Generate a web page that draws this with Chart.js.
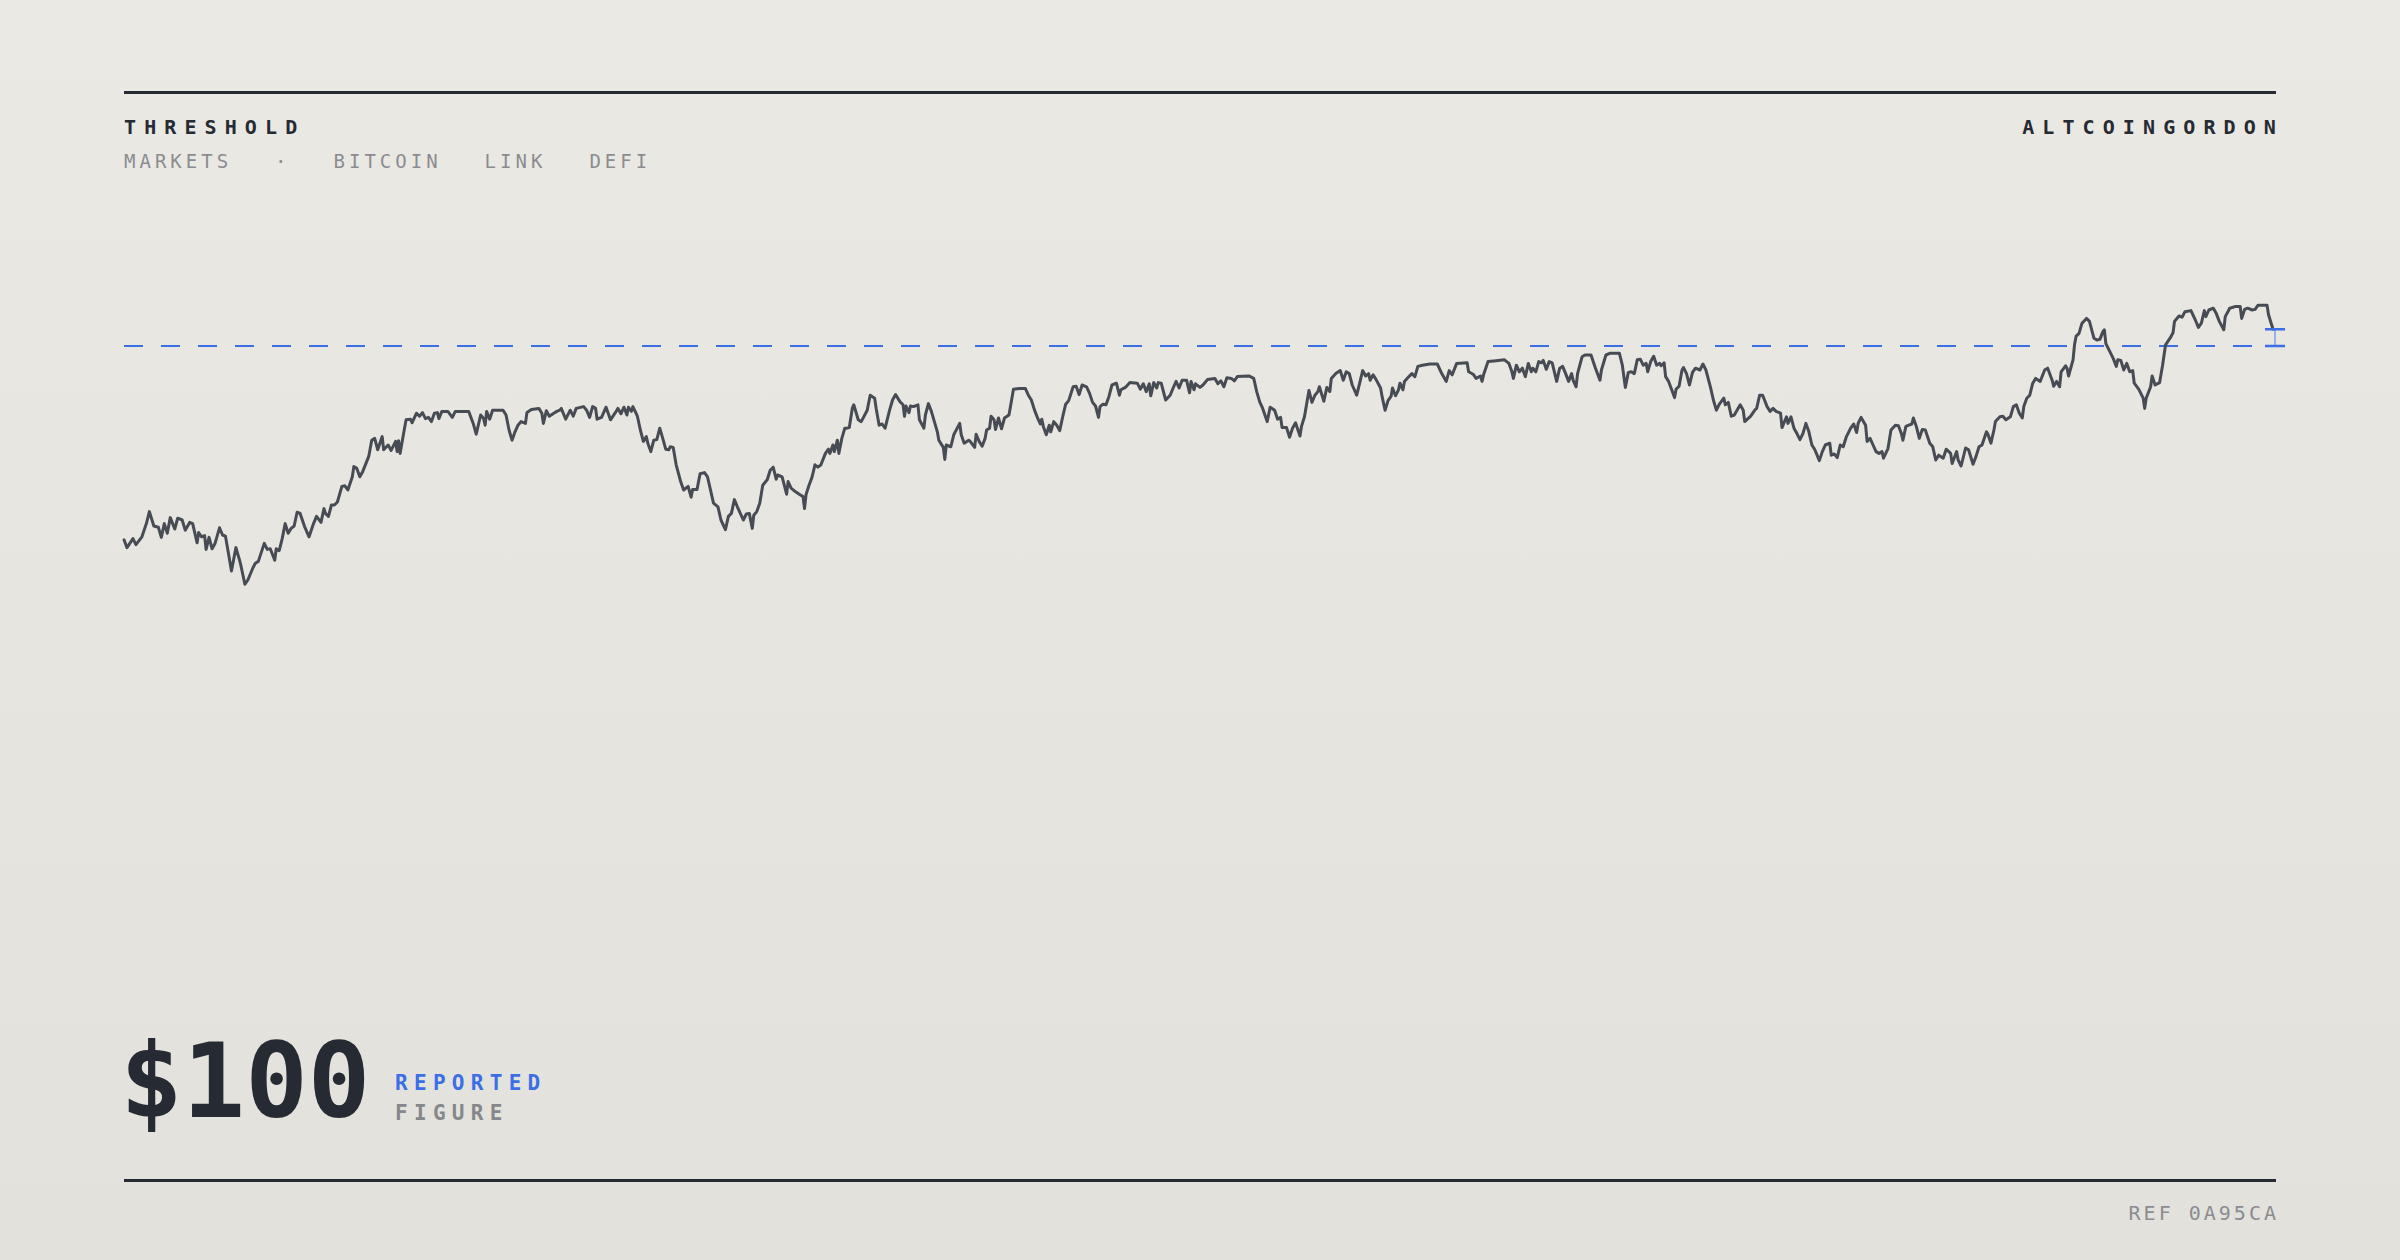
<!DOCTYPE html>
<html>
<head>
<meta charset="utf-8">
<title>Threshold</title>
<script src="https://cdn.jsdelivr.net/npm/chart.js@4.4.1/dist/chart.umd.min.js"></script>
<style>
  html, body { margin: 0; padding: 0; }
  body {
    width: 2400px; height: 1260px; position: relative; overflow: hidden;
    background: linear-gradient(180deg, #ebe9e3 0%, #e2e1dc 100%);
    font-family: 'DejaVu Sans Mono', monospace; color: #262a33;
  }
  .rule { position: absolute; left: 124px; width: 2152px; height: 3px; background: #262a33; }
  .brand { position: absolute; top: 117px; font-size: 20px; line-height: 20px; font-weight: bold; letter-spacing: 8.1px; white-space: nowrap; }
  .nav { position: absolute; left: 124px; top: 152px; display: flex; gap: 43px; font-size: 19px; line-height: 19px; letter-spacing: 4px; color: #8b8c90; white-space: nowrap; }
  #wrap { position: absolute; left: 104px; top: 206px; width: 2200px; height: 760px; }
  .big { position: absolute; left: 120px; top: 1029px; font-size: 104px; line-height: 104px; font-weight: bold; white-space: nowrap; }
  .tag { position: absolute; left: 395px; font-size: 21px; line-height: 21px; font-weight: bold; letter-spacing: 6.3px; white-space: nowrap; }
  .ref { position: absolute; right: 121px; top: 1203px; font-size: 20px; line-height: 20px; letter-spacing: 3px; color: #8b8c90; white-space: nowrap; }
</style>
</head>
<body>
<div class="rule" style="top:91px"></div>
<div class="brand" style="left:124px">THRESHOLD</div>
<div class="brand" style="right:116px">ALTCOINGORDON</div>
<div class="nav"><span>MARKETS</span><span>·</span><span>BITCOIN</span><span>LINK</span><span>DEFI</span></div>

<div id="wrap"><canvas id="chart"></canvas></div>

<div class="big" id="figure"></div>
<div class="tag" style="top:1073px; color:#3a6fe6">REPORTED</div>
<div class="tag" style="top:1103px; color:#86878b">FIGURE</div>
<div class="rule" style="top:1179px"></div>
<div class="ref">REF 0A95CA</div>

<script>
// sample index (half-day steps) and price
const t = [
  0,2,6,8,12,15,17,20,23,25,27,29,31,34,36,39,41,44,46,49,50,52,54,55,57,59,61,64,66,68,
  70,72,75,78,81,83,86,88,90,94,96,98,101,102,104,106,108,110,112,114,116,118,121,124,127,129,132,134,135,137,
  139,141,143,146,148,150,153,154,156,158,160,164,166,168,170,173,174,177,179,182,183,184,185,187,189,192,193,196,198,200,
  202,204,206,208,210,211,213,217,220,222,231,234,236,
  239,241,242,243,245,247,254,256,258,260,262,264,266,269,270,273,278,280,281,283,285,288,290,292,293,296,299,301,303,308,
  310,312,314,316,317,320,323,326,329,331,333,335,337,338,340,341,344,346,348,350,351,353,355,357,359,361,363,365,366,368,
  370,373,375,378,380,381,384,386,389,391,393,395,398,400,403,405,407,409,411,415,417,419,421,422,424,426,428,431,433,435,
  437,438,441,444,445,447,450,453,455,456,457,459,461,463,465,467,470,472,473,475,476,478,479,481,483,484,
  486,488,489,492,494,498,500,503,504,506,508,510,513,515,517,520,522,523,524,526,527,529,532,533,536,537,539,541,543,545,
  546,549,550,551,554,556,560,561,563,566,567,570,571,573,575,577,578,580,581,583,584,586,588,590,593,594,596,600,604,606,
  608,610,612,614,615,616,618,620,621,623,625,627,629,631,633,636,638,640,642,645,647,649,651,653,654,656,658,660,662,665,
  667,668,671,674,679,681,683,685,687,688,690,692,693,695,698,701,703,705,707,709,712,714,715,717,718,721,723,
  726,731,733,735,737,739,742,744,746,754,757,759,761,763,766,768,771,773,775,776,779,781,783,785,788,789,791,794,796,798,
  800,801,804,806,808,809,812,815,817,819,821,823,826,828,830,832,834,835,837,839,842,843,845,847,849,850,852,854,855,857,
  858,861,863,865,867,870,875,880,883,886,888,890,893,900,901,904,906,909,910,911,914,918,925,928,930,931,933,935,937,939,
  941,943,944,946,948,950,951,953,955,957,960,962,964,966,
  968,970,971,973,974,977,979,983,986,989,990,993,996,1002,1004,1006,1008,1010,1012,1014,1016,1018,1020,1021,1023,1025,1027,1029,1030,1032,
  1033,1035,1039,1040,1042,1044,1045,1047,1049,1051,1053,1056,1058,1060,1063,1065,1067,1069,1072,1073,1075,1077,1079,1083,1085,1086,1090,1093,1094,1096,
  1098,1101,1103,1105,1107,1110,1111,1114,1115,1117,1119,1121,1123,1125,1127,1129,1131,1133,1136,1138,1140,1143,1144,1146,1148,1150,1152,1154,1157,1159,
  1161,1162,1164,1167,1168,1170,1172,1174,1176,1178,1179,1182,1184,1187,1189,1191,1192,1194,1196,1198,1199,1201,1203,1205,1207,1210,
  1212,1214,1216,1219,1221,1224,1225,1228,1229,1231,1234,1236,1239,1241,1243,1245,1248,1249,1251,1253,1254,1257,1259,1261,1264,1266,1268,1270,1272,1273,
  1275,1277,1279,1281,1284,1287,1289,1292,1293,1295,1297,1298,1301,1302,1303,1306,1307,1308,1310,1312,1315,1317,1320,1322,1324,1326,1327,1328,1330,1333,
  1335,1336,1338,1340,1342,1344,1346,1347,1350,1353,1354,1355,1358,1359,1361,1364,1366,1368,1371,1373,1374,1377,1379,1381,1385,1388,1390,1392,1394,1395,
  1397,1400,1402,1404,1407,1408,1411,1415,1418,1419,1421,1423,1426,1428,1430,1433,1436,1437,1440
];
const price = [
  67.7,66.4,67.9,66.9,68.2,70.4,72.4,70.0,69.8,68.1,70.4,68.8,71.4,69.5,71.3,71.0,69.3,70.6,70.4,67.2,68.9,68.2,68.4,66.1,68.1,66.2,67.1,69.7,68.5,68.3,
  65.4,62.5,66.4,63.8,60.3,61.0,62.8,63.8,64.1,67.1,66.1,66.2,64.3,66.2,65.9,67.9,70.4,68.8,69.6,70.0,72.3,72.1,69.9,68.2,70.4,71.6,70.6,72.9,72.1,71.6,
  73.5,73.5,74.0,76.6,76.7,76.0,78.2,79.9,79.6,78.2,79.1,81.6,84.3,84.6,82.7,84.9,82.7,83.5,82.6,84.1,82.4,84.2,82.1,84.9,87.7,87.8,87.2,88.8,88.3,88.9,
  87.9,88.1,87.4,88.8,88.9,87.9,89.1,89.1,88.1,89.1,89.1,87.1,85.3,
  88.5,87.9,86.8,89.1,87.8,89.3,89.3,88.5,86.0,84.3,85.7,86.8,87.4,87.1,88.9,89.4,89.6,88.8,87.1,89.2,88.3,88.8,89.1,89.3,89.6,87.8,89.3,88.3,89.6,89.9,
  89.3,88.1,89.9,89.6,87.8,88.1,89.8,87.7,88.8,89.6,88.7,89.8,88.5,89.8,89.1,89.9,88.3,86.0,84.1,84.9,83.8,82.4,84.3,84.4,86.3,84.6,82.8,82.7,83.2,83.1,
  80.2,77.4,76.0,76.6,74.8,76.1,76.1,78.7,78.9,78.2,76.0,73.8,73.2,71.0,69.4,71.6,72.1,74.4,73.2,71.0,72.0,72.1,69.6,71.8,72.4,73.8,76.8,77.7,79.3,79.8,
  77.8,78.5,78.2,75.3,77.4,76.3,75.7,75.2,74.9,72.9,75.2,76.8,78.1,80.2,79.8,80.2,82.1,82.8,82.1,83.5,82.4,84.3,82.1,84.6,86.3,86.3,
  86.4,89.6,90.2,87.7,87.4,89.3,91.8,91.3,89.6,86.8,87.0,86.3,89.3,91.0,91.9,90.7,90.2,88.3,90.0,88.9,90.0,89.9,90.2,87.7,86.3,88.5,90.4,89.1,87.4,85.7,
  84.3,83.1,81.1,83.5,83.2,85.2,87.1,85.2,83.8,84.3,84.1,83.1,85.3,84.1,83.3,84.6,86.0,86.3,88.3,87.7,86.1,88.0,86.2,88.0,88.5,89.9,92.8,92.9,92.9,91.8,
  91.0,89.4,88.1,87.0,87.8,86.6,85.2,86.8,85.7,87.4,86.8,85.9,88.2,90.3,90.9,93.2,93.3,91.9,93.5,93.2,92.1,90.6,90.0,88.1,89.9,90.3,90.2,91.6,93.5,93.8,
  91.8,92.7,93.1,93.9,93.8,92.8,93.7,92.4,93.7,91.7,93.9,93.0,93.9,93.8,91.0,91.8,93.0,94.1,93.0,94.3,94.3,92.2,94.1,92.7,93.7,93.1,93.5,
  94.4,94.6,93.7,94.2,93.2,94.7,94.6,94.2,94.9,95.0,94.6,92.4,90.7,89.6,87.4,89.8,89.3,87.8,88.1,86.4,86.4,84.8,86.3,87.2,85.0,86.6,88.2,92.6,90.6,91.8,
  92.4,93.2,90.8,93.1,92.4,94.6,95.4,95.9,94.3,95.7,95.4,93.5,91.8,93.8,95.9,95.0,95.4,94.3,95.2,94.4,93.0,91.6,89.3,90.9,91.6,93.0,91.7,92.7,93.8,92.7,
  94.1,94.9,95.4,94.9,96.6,96.8,97.0,97.0,95.4,94.1,95.9,95.2,97.1,97.2,95.7,95.3,94.6,95.0,94.1,95.2,97.4,97.5,97.7,97.1,95.7,94.6,96.8,95.7,96.3,94.9,
  97.1,95.7,96.3,95.7,97.4,97.2,97.6,96.1,97.4,97.2,94.1,96.3,96.6,95.4,
  94.1,95.4,94.3,93.2,95.4,98.2,98.5,98.5,96.3,94.3,96.0,98.5,98.8,98.8,96.8,93.1,95.6,95.7,95.4,97.7,97.8,96.8,97.1,95.7,97.4,98.3,96.8,97.1,96.7,97.2,
  94.9,94.1,91.4,92.8,93.3,96.0,96.4,95.4,93.5,95.6,96.3,96.0,97.0,96.0,93.2,91.0,89.3,90.3,91.3,90.2,90.6,88.3,88.5,90.2,89.3,87.4,88.3,89.4,89.6,91.8,
  91.8,89.9,89.1,89.6,89.1,88.8,86.4,88.2,87.1,88.2,86.3,85.4,84.4,85.4,87.1,85.7,83.5,82.7,80.9,82.4,83.5,83.8,81.8,82.0,81.4,83.5,83.2,84.8,86.3,87.0,
  85.6,87.1,88.1,86.8,84.1,84.6,83.5,82.4,82.1,82.4,81.3,82.9,86.0,86.8,86.7,85.4,84.3,86.6,86.8,87.0,88.0,86.6,84.6,86.1,86.0,83.8,
  83.2,81.0,81.8,81.3,82.8,82.1,80.4,82.4,81.0,80.0,83.0,82.7,80.3,81.6,83.2,83.5,85.7,85.3,83.8,86.0,87.4,88.2,88.3,87.7,88.2,89.9,90.2,88.8,88.0,89.9,
  91.3,91.8,93.8,94.6,94.1,96.0,96.3,94.3,93.3,94.1,93.2,95.7,96.7,96.3,95.0,97.7,100.2,101.6,102.1,103.8,104.6,104.1,101.3,101.0,101.1,102.4,102.7,100.4,99.4,97.9,
  96.6,97.7,97.6,96.0,97.1,95.7,95.9,93.8,92.8,91.3,89.6,91.3,93.2,95.0,93.5,93.9,96.8,100.2,101.3,102.2,104.1,105.0,104.8,105.7,105.9,104.3,103.1,103.8,105.9,104.9,
  106.0,106.3,105.4,104.1,102.7,104.9,106.3,106.6,106.6,104.6,106.1,106.3,106.0,106.1,106.8,106.8,106.8,105.2,102.8
];
const threshold = 100;
const reportedLabel = '$100';
const xRange = [0, 1442];
const yRange = [0, 120];

document.getElementById('figure').textContent = reportedLabel;

const n = Math.min(t.length, price.length);
const series = [];
for (let i = 0; i < n; i++) series.push({ x: t[i], y: price[i] });
const thresholdLine = [{ x: xRange[0], y: threshold }, { x: xRange[1], y: threshold }];

// small bracket from the threshold up to the latest value
const gapMarker = {
  id: 'gapMarker',
  afterDatasetsDraw(chart) {
    const ctx = chart.ctx;
    const xs = chart.scales.x, ys = chart.scales.y;
    const px = xs.getPixelForValue(t[n - 1]) + 2;
    const top = ys.getPixelForValue(price[n - 1]);
    const base = ys.getPixelForValue(threshold);
    ctx.save();
    ctx.strokeStyle = '#7d9fea';
    ctx.lineWidth = 1.5;
    ctx.beginPath();
    ctx.moveTo(px, top);
    ctx.lineTo(px, base);
    ctx.stroke();
    ctx.strokeStyle = '#3a6fe6';
    ctx.lineWidth = 2.5;
    ctx.beginPath();
    ctx.moveTo(px - 10, top); ctx.lineTo(px + 10, top);
    ctx.moveTo(px - 10, base); ctx.lineTo(px + 10, base);
    ctx.stroke();
    ctx.restore();
  }
};

const ctx = document.getElementById('chart').getContext('2d');
const chart = new Chart(ctx, {
  type: 'line',
  data: {
    datasets: [{
      data: series,
      borderColor: '#474b54',
      borderWidth: 3,
      pointRadius: 0,
      tension: 0,
      borderJoinStyle: 'round',
      borderCapStyle: 'round',
      clip: false,
      order: 0
    }, {
      data: thresholdLine,
      borderColor: '#3a6fe6',
      borderWidth: 2,
      borderDash: [19, 18],
      pointRadius: 0,
      clip: false,
      order: 1
    }]
  },
  options: {
    responsive: true,
    maintainAspectRatio: false,
    animation: false,
    layout: { padding: { left: 20, right: 28, top: 20, bottom: 20 } },
    plugins: { legend: { display: false }, tooltip: { enabled: false } },
    scales: {
      x: { type: 'linear', min: xRange[0], max: xRange[1], display: false },
      y: { min: yRange[0], max: yRange[1], display: false }
    }
  },
  plugins: [gapMarker]
});
</script>
</body>
</html>
